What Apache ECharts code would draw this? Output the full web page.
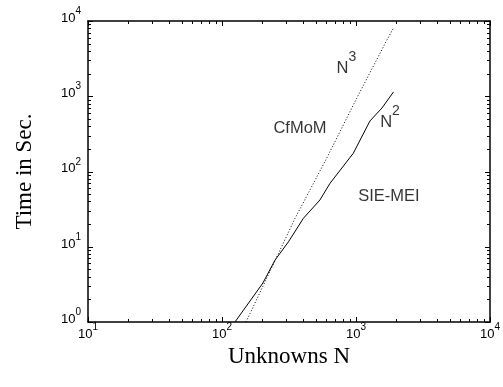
<!DOCTYPE html>
<html>
<head>
<meta charset="utf-8">
<script src="https://cdn.jsdelivr.net/npm/echarts@6/dist/echarts.min.js"></script>
<style>html,body{margin:0;padding:0;background:#fff}#c{width:503px;height:387px}</style>
</head>
<body>
<div id="c"></div>
<script>
// SIE-MEI (solid) : unknowns N vs time in seconds
const nSIE = [125, 202, 249, 313, 405, 538, 640, 955, 1271, 1563, 1905];
const tSIE = [1, 3.3, 6.67, 11.6, 23.9, 41.8, 69.7, 175, 469, 698, 1140];
// CfMoM (dotted)
const nCf = [151, 351, 604, 1012, 1675, 1897];
const tCf = [1, 23.9, 150, 939, 5309, 8000];
// axis ranges and tick values
const X_MIN = 10, X_MAX = 10000, Y_MIN = 1, Y_MAX = 10000;
const xMajor = [10, 100, 1000, 10000];
const yMajor = [1, 10, 100, 1000, 10000];
// annotation texts and anchors (data coords)
const noteText = ['CfMoM', 'N3', 'N2', 'SIE-MEI'];
const noteN = [382, 849, 1795, 1762];
const noteT = [378, 2352, 450, 46.3];

function minors(lo, hi) {
  const out = [];
  for (let d = lo; d < hi; d *= 10) for (let k = 2; k <= 9; k++) out.push(k * d);
  return out;
}
const xMinor = minors(X_MIN, X_MAX);
const yMinor = minors(Y_MIN, Y_MAX);

const SANS = 'Liberation Sans, Arial, Helvetica, sans-serif';
const SERIF = 'Liberation Serif, Times New Roman, serif';
const black = '#000';

function expLabel(v) {
  const e = Math.round(Math.log10(v));
  return '{b|10}{s|' + e + '}';
}
const labelRich = {
  b: { fontSize: 13, fontFamily: SANS, color: black, lineHeight: 18.5, verticalAlign: 'bottom' },
  s: { fontSize: 10, fontFamily: SANS, color: black, verticalAlign: 'top' }
};
const frameLine = { show: true, onZero: false, lineStyle: { color: black, width: 1.5 } };

const xAxis = [
  {
    type: 'log', logBase: 10, min: X_MIN, max: X_MAX, position: 'bottom',
    splitLine: { show: false }, axisLine: frameLine,
    axisTick: { show: false }, minorTick: { show: false },
    axisLabel: { show: true, customValues: xMajor, margin: 0, formatter: expLabel, rich: labelRich },
    name: 'Unknowns N', nameLocation: 'middle', nameGap: 18,
    nameTextStyle: { fontFamily: SERIF, fontSize: 23, color: black }
  },
  {
    type: 'log', logBase: 10, min: X_MIN, max: X_MAX, position: 'top',
    splitLine: { show: false }, axisLine: frameLine,
    axisTick: { show: false }, minorTick: { show: false }, axisLabel: { show: false }
  }
];
const yAxis = [
  {
    type: 'log', logBase: 10, min: Y_MIN, max: Y_MAX, position: 'left',
    splitLine: { show: false }, axisLine: frameLine,
    axisTick: { show: false }, minorTick: { show: false },
    axisLabel: { show: true, customValues: yMajor, margin: 7, padding: [0, 0, 11, 0], formatter: expLabel, rich: labelRich },
    name: 'Time in Sec.', nameLocation: 'middle', nameGap: 52, nameRotate: 90,
    nameTextStyle: { fontFamily: SERIF, fontSize: 23, color: black }
  },
  {
    type: 'log', logBase: 10, min: Y_MIN, max: Y_MAX, position: 'right',
    splitLine: { show: false }, axisLine: frameLine,
    axisTick: { show: false }, minorTick: { show: false }, axisLabel: { show: false }
  }
];

function crisp(v) { return Math.round(v) + 0.5; }
function tickLine(x1, y1, x2, y2) {
  return { type: 'line', shape: { x1: x1, y1: y1, x2: x2, y2: y2 }, style: { stroke: black, lineWidth: 1 } };
}
// inward ticks on all four sides, placed through the axes' scales
function xTicks(values, len) {
  return {
    type: 'custom', xAxisIndex: 0, yAxisIndex: 0, silent: true, z: 4,
    data: values.map(v => [v, Y_MIN]),
    renderItem: (params, api) => {
      const v = api.value(0);
      const b = api.coord([v, Y_MIN]);
      const t = api.coord([v, Y_MAX]);
      const x = crisp(b[0]);
      return { type: 'group', children: [tickLine(x, b[1], x, b[1] - len), tickLine(x, t[1], x, t[1] + len)] };
    }
  };
}
function yTicks(values, len) {
  return {
    type: 'custom', xAxisIndex: 0, yAxisIndex: 0, silent: true, z: 4,
    data: values.map(v => [X_MIN, v]),
    renderItem: (params, api) => {
      const v = api.value(1);
      const l = api.coord([X_MIN, v]);
      const r = api.coord([X_MAX, v]);
      const y = crisp(l[1]);
      return { type: 'group', children: [tickLine(l[0], y, l[0] + len, y), tickLine(r[0], y, r[0] - len, y)] };
    }
  };
}

const sieData = nSIE.map((n, i) => [n, tSIE[i]]);
const cfData = nCf.map((n, i) => [n, tCf[i]]);
const noteData = noteText.map((t, i) => ({ value: [noteN[i], noteT[i]], name: t }));

const chart = echarts.init(document.getElementById('c'), null, { renderer: 'canvas' });
chart.setOption({
  animation: false,
  backgroundColor: '#fff',
  grid: { left: 88, right: 13, top: 21, bottom: 65 },
  xAxis: xAxis,
  yAxis: yAxis,
  series: [
    xTicks(xMajor, 5), xTicks(xMinor, 3), yTicks(yMajor, 5), yTicks(yMinor, 3),
    {
      name: 'SIE-MEI', type: 'line', data: sieData, showSymbol: false, symbol: 'none',
      xAxisIndex: 0, yAxisIndex: 0,
      lineStyle: { color: black, width: 1 }, z: 3
    },
    {
      name: 'CfMoM', type: 'line', data: cfData, showSymbol: false, symbol: 'none',
      xAxisIndex: 0, yAxisIndex: 0,
      lineStyle: { color: black, width: 1, type: [1, 2] }, z: 3
    },
    {
      name: 'notes', type: 'scatter', data: noteData, symbolSize: 0,
      xAxisIndex: 0, yAxisIndex: 0, silent: true,
      label: {
        show: true, position: 'inside', color: black, offset: [0, -5],
        formatter: p => {
          const t = p.name;
          if (t === 'N3') return '{n|N}{s|3}';
          if (t === 'N2') return '{n|N}{s|2}';
          return '{n|' + t + '}';
        },
        rich: {
          n: { fontFamily: SANS, fontSize: 16.5, color: black, lineHeight: 27, verticalAlign: 'bottom' },
          s: { fontFamily: SANS, fontSize: 14, color: black, verticalAlign: 'top' }
        }
      }
    }
  ]
});
</script>
</body>
</html>
